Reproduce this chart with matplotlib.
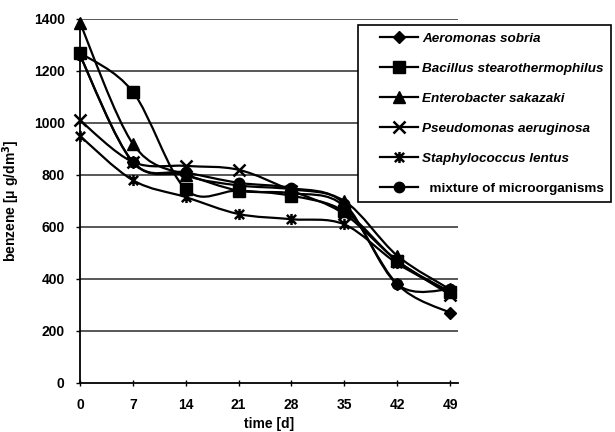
import matplotlib
matplotlib.use("Agg")
import matplotlib.pyplot as plt
import numpy as np
from matplotlib.path import Path
from matplotlib.patches import PathPatch
from matplotlib.lines import Line2D
from matplotlib.legend_handler import HandlerLine2D

plt.rcParams['font.family'] = ['Liberation Sans', 'DejaVu Sans']

days = [0, 7, 14, 21, 28, 35, 42, 49]
aeromonas = [1260, 850, 800, 740, 730, 680, 380, 270]
bacillus = [1270, 1120, 745, 740, 720, 660, 470, 350]
enterobacter = [1385, 920, 800, 760, 745, 700, 490, 360]
pseudomonas = [1010, 850, 835, 820, 740, 650, 470, 340]
staphylococcus = [950, 780, 715, 650, 630, 610, 460, 350]
mixture = [1260, 850, 810, 770, 750, 690, 380, 360]

labels = ["Aeromonas sobria", "Bacillus stearothermophilus", "Enterobacter sakazaki",
          "Pseudomonas aeruginosa", "Staphylococcus lentus", "  mixture of microorganisms"]
series = [aeromonas, bacillus, enterobacter, pseudomonas, staphylococcus, mixture]

asterisk = Path([(-1, -1), (1, 1), (-1, 1), (1, -1), (0, -1.2), (0, 1.2)],
                [Path.MOVETO, Path.LINETO, Path.MOVETO, Path.LINETO, Path.MOVETO, Path.LINETO])
markers = [dict(marker='D', ms=6.5, mfc='black', mec='black'),
           dict(marker='s', ms=8.5, mfc='black', mec='black'),
           dict(marker='^', ms=8.5, mfc='black', mec='black'),
           dict(marker='x', ms=8, mew=1.8, mec='black'),
           dict(marker=asterisk, ms=8, mew=1.8, mec='black', mfc='none'),
           dict(marker='o', ms=7.5, mfc='black', mec='black')]

fig = plt.figure(figsize=(6.15, 4.32), dpi=100)
ax = fig.add_axes([80/615, 49/432, 377.6/615, 364/432])
ax.set_xlim(0, 50)
ax.set_ylim(0, 1400)

for yv in range(200, 1401, 200):
    ax.axhline(yv, color='#2a2a2a', lw=1.1, zorder=1)


def smooth_path(x, y):
    x = np.asarray(x, float)
    y = np.asarray(y, float)
    P = np.column_stack([x, y])
    n = len(P)
    verts = [P[0]]
    codes = [Path.MOVETO]
    for i in range(n - 1):
        p0 = P[i - 1] if i > 0 else P[i]
        p1 = P[i]
        p2 = P[i + 1]
        p3 = P[i + 2] if i + 2 < n else P[i + 1]
        c1 = p1 + (p2 - p0) / 6.0
        c2 = p2 - (p3 - p1) / 6.0
        verts += [c1, c2, p2]
        codes += [Path.CURVE4] * 3
    return Path(verts, codes)


handles = []
for vals, lab, mk in zip(series, labels, markers):
    patch = PathPatch(smooth_path(days, vals), fill=False, edgecolor='black', lw=1.6, zorder=3)
    ax.add_patch(patch)
    ax.plot(days, vals, linestyle='none', color='black', zorder=4, clip_on=False, **mk)
    handles.append(Line2D([], [], color='black', lw=1.6, **mk))

for s in ['top', 'right']:
    ax.spines[s].set_visible(False)
ax.spines['left'].set_linewidth(1.3)
ax.spines['bottom'].set_linewidth(1.3)

ax.set_xticks(days)
ax.set_yticks(range(0, 1401, 200))
ax.tick_params(axis='x', direction='inout', length=5, width=1, pad=8, labelsize=10)
ax.tick_params(axis='y', direction='out', length=3, width=1, pad=8, labelsize=10)
for t in ax.get_xticklabels() + ax.get_yticklabels():
    t.set_fontweight('bold')

ax.set_xlabel("time [d]", fontsize=10, fontweight='bold', labelpad=4)
ax.set_ylabel("benzene [μ g/dm$^\\mathbf{3}$]", fontsize=10, fontweight='bold')
ax.yaxis.set_label_coords(-0.153, 0.5)

fs = 9.7
hmap = {h: HandlerLine2D(xpad=1.1) for h in handles}
leg = fig.legend(handles, labels, loc='upper left', bbox_to_anchor=(358/615, 1 - 25/432),
                 bbox_transform=fig.transFigure, frameon=True, fancybox=False,
                 edgecolor='black', framealpha=1, handlelength=3.9, handletextpad=0.3,
                 labelspacing=1.3, borderpad=0.55, borderaxespad=0, handler_map=hmap,
                 prop=dict(style='italic', weight='bold', size=fs))
leg.get_frame().set_linewidth(1.2)
leg.get_texts()[-1].set_style('normal')

fig.savefig("out.png", dpi=100)
